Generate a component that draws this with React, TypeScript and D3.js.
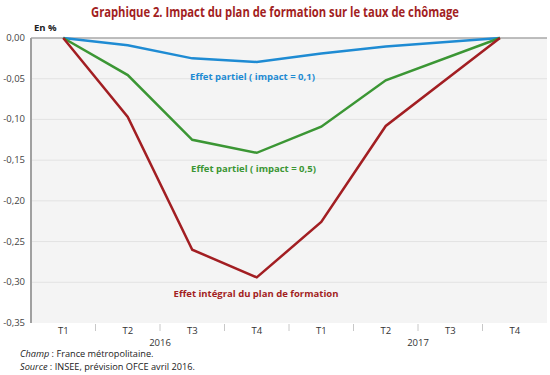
import React from "react";
import * as d3 from "d3";

const categories = ["T1", "T2", "T3", "T4", "T1", "T2", "T3", "T4"];
const years = [
  { label: "2016", from: 0, to: 4 },
  { label: "2017", from: 4, to: 8 },
];
// x position of each point, in quarter index
const pointPos = [0, 1, 2, 3, 4, 5, 6.77];
const blueValues = [0, -0.009, -0.025, -0.0295, -0.019, -0.0105, 0];
const greenValues = [0, -0.0455, -0.125, -0.141, -0.109, -0.052, 0];
const redValues = [0, -0.097, -0.26, -0.294, -0.226, -0.108, 0];
const yTicks = [0, -0.05, -0.1, -0.15, -0.2, -0.25, -0.3, -0.35];

const series = [
  { name: "Effet partiel ( impact = 0,1)", values: blueValues, color: "#1e8bd3" },
  { name: "Effet partiel ( impact = 0,5)", values: greenValues, color: "#3b9634" },
  { name: "Effet intégral du plan de formation", values: redValues, color: "#a21e22" },
];

const FONT = "'Open Sans', 'DejaVu Sans', sans-serif";

export default function App() {
  const W = 550, H = 375;
  const left = 31, right = 547, top = 38, bottom = 323;
  const y = d3.scaleLinear().domain([0, -0.35]).range([top, bottom]);
  const band = d3.scaleBand<number>().domain(d3.range(categories.length)).range([left, right]).padding(0);
  const bw = band.bandwidth();
  const x = (i: number) => left + (i + 0.5) * bw;
  const line = d3
    .line<[number, number]>()
    .x((d) => x(d[0]))
    .y((d) => y(d[1]));
  const fmt = (v: number) => d3.format(".2f")(v).replace(".", ",").replace("−", "-");

  return (
    <svg width={W} height={H} style={{ position: "absolute", left: 0, top: 0, background: "#fff" }} fontFamily={FONT}>
      <text x={91} y={17} fill="#a21e22" fontWeight="bold" fontSize={13.5} textLength={368} lengthAdjust="spacingAndGlyphs">
        Graphique 2. Impact du plan de formation sur le taux de chômage
      </text>
      <rect x={left} y={top} width={right - left} height={bottom - top} fill="#f4f4f4" />
      {yTicks.slice(1, -1).map((t) => (
        <line key={t} x1={left} x2={right} y1={y(t)} y2={y(t)} stroke="#e2e2e2" strokeWidth={1} />
      ))}
      <line x1={left} x2={right} y1={top} y2={top} stroke="#a8a8a8" strokeWidth={1.5} />
      <line x1={left} x2={left} y1={top} y2={bottom} stroke="#a0a0a0" strokeWidth={2} />
      {yTicks.map((t) => (
        <text key={t} x={25} y={y(t) + 3} textAnchor="end" fontSize={9.5} fill="#444">
          {fmt(t)}
        </text>
      ))}
      <text x={34} y={31} fontSize={9.5} fontWeight="bold" fill="#222">En %</text>
      {d3.range(1, categories.length).map((i) => (
        <line key={i} x1={band(i)!} x2={band(i)!} y1={bottom + 1} y2={bottom + 8} stroke="#c8c8c8" strokeWidth={1} />
      ))}
      {categories.map((c, i) => (
        <text key={i} x={band(i)! + bw / 2} y={334} textAnchor="middle" fontSize={9.5} fill="#333">
          {c}
        </text>
      ))}
      {years.map((yr) => (
        <text key={yr.label} x={(band(yr.from)! + band(yr.to - 1)! + bw) / 2} y={346} textAnchor="middle" fontSize={9.5} fill="#333">
          {yr.label}
        </text>
      ))}
      {series.map((s) => (
        <path
          key={s.name}
          d={line(s.values.map((v, i) => [pointPos[i], v] as [number, number]))!}
          fill="none"
          stroke={s.color}
          strokeWidth={2.5}
          strokeLinejoin="miter"
        />
      ))}
      {series.map((s, k) => (
        <text
          key={s.name + "l"}
          x={[252.5, 253.5, 256][k]}
          y={[79.5, 171.5, 297][k]}
          textAnchor="middle"
          fontSize={9.5}
          fontWeight="bold"
          fill={s.color}
        >
          {s.name}
        </text>
      ))}
      <text x={20} y={357} fontSize={9.2} fill="#222">
        <tspan fontStyle="italic">Champ</tspan> : France métropolitaine.
      </text>
      <text x={20} y={370} fontSize={9.2} fill="#222">
        <tspan fontStyle="italic">Source</tspan> : INSEE, prévision OFCE avril 2016.
      </text>
    </svg>
  );
}
